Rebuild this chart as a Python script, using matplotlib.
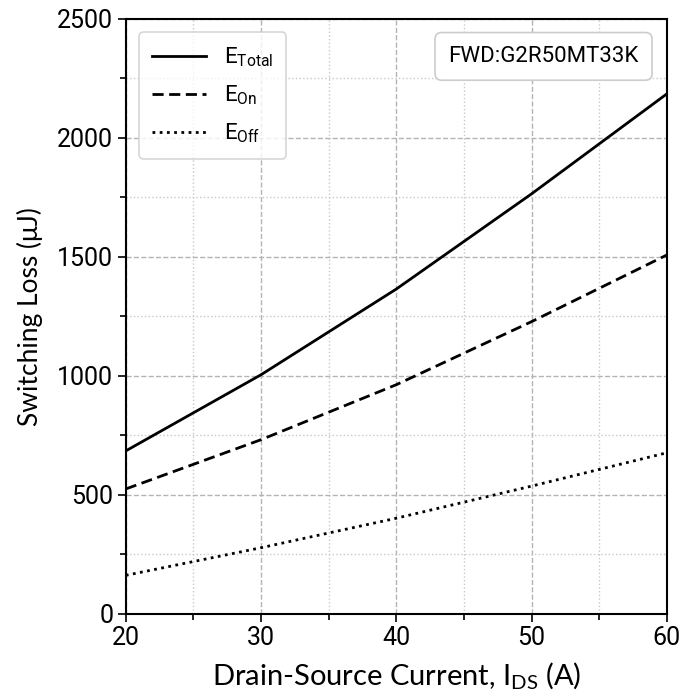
import numpy as np
import matplotlib
matplotlib.use("Agg")
import matplotlib.pyplot as plt
from matplotlib.ticker import MultipleLocator

plt.rcParams['font.family'] = ['Lato', 'DejaVu Sans']
plt.rcParams['mathtext.default'] = 'regular'

# switching loss vs drain current
ids = [20, 30, 40, 50, 60]
e_total = [685, 1005, 1365, 1765, 2185]
e_on = [525, 732, 963, 1228, 1508]
e_off = [162, 278, 402, 537, 677]
labels = [r'$E_{Total}$', r'$E_{On}$', r'$E_{Off}$']
fwd_text = 'FWD:G2R50MT33K'

narrow = ['Roboto', 'DejaVu Sans']

fig = plt.figure(figsize=(6.99, 7.0), dpi=100)
ax = fig.add_axes([0.180, 0.123, 0.774, 0.850])

ax.plot(ids, e_total, color='black', lw=2.0, ls='-', label=labels[0])
ax.plot(ids, e_on, color='black', lw=2.0, ls=(0, (4, 2)), label=labels[1])
ax.plot(ids, e_off, color='black', lw=2.0, ls=(0, (1, 1.6)), label=labels[2])

ax.set_xlim(20, 60)
ax.set_ylim(0, 2500)
ax.xaxis.set_major_locator(MultipleLocator(10))
ax.xaxis.set_minor_locator(MultipleLocator(5))
ax.yaxis.set_major_locator(MultipleLocator(500))
ax.yaxis.set_minor_locator(MultipleLocator(250))
ax.grid(which='major', ls='--', color='#b4b4b4', lw=1.0)
ax.grid(which='minor', ls=':', color='#c8c8c8', lw=1.0)
ax.set_axisbelow(True)

for s in ax.spines.values():
    s.set_linewidth(1.5)
ax.tick_params(which='both', direction='out', width=1.2)
ax.tick_params(which='major', length=6, labelsize=18, pad=3)
ax.tick_params(which='minor', length=4)
for lab in ax.get_xticklabels() + ax.get_yticklabels():
    lab.set_family(narrow)

ax.set_xlabel(r'Drain-Source Current, I$_{DS}$ (A)', fontsize=21, labelpad=7)
ax.set_ylabel('Switching Loss (μJ)', fontsize=19, labelpad=10)

leg = ax.legend(loc='upper left', fontsize=16, handlelength=2.4,
                borderpad=0.6, labelspacing=0.65, fancybox=True,
                bbox_to_anchor=(0.0, 1.0), borderaxespad=0.6)
leg.get_frame().set_edgecolor('#cccccc')
leg.get_frame().set_linewidth(1.2)
for t in leg.get_texts():
    t.set_family(narrow)

ax.text(0.948, 0.937, fwd_text, transform=ax.transAxes, ha='right', va='center',
        fontsize=16, family=narrow,
        bbox=dict(boxstyle='round,pad=0.6,rounding_size=0.3', fc='white',
                  ec='#cccccc', lw=1.2))

fig.savefig('out.png', dpi=100)
